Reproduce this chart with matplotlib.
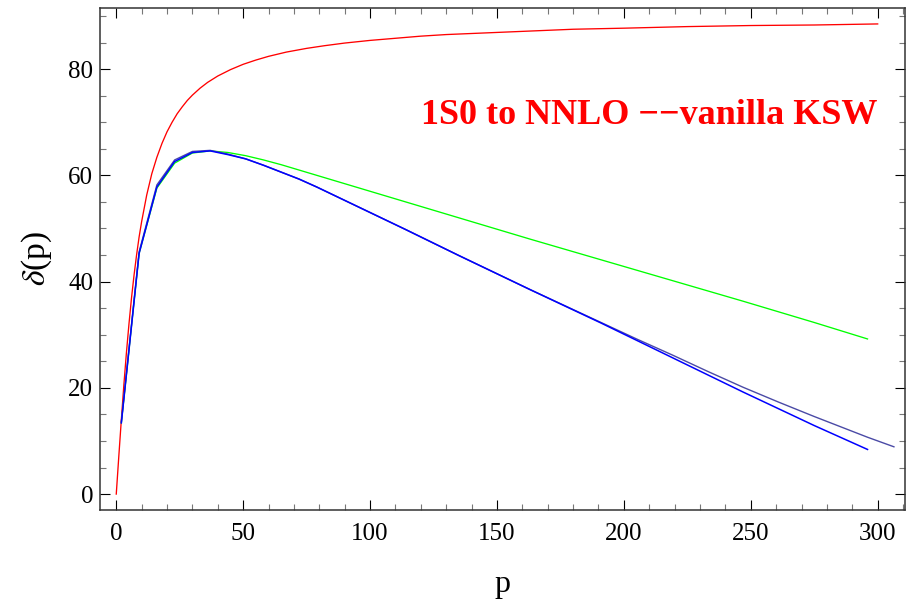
import matplotlib
matplotlib.use("Agg")
import matplotlib.pyplot as plt
from matplotlib.ticker import MultipleLocator

# red curve (LO, rises towards 90 deg)
p_red = [0, 1, 2, 3, 4, 5, 6, 7, 8, 9, 10, 12, 14, 16, 18, 20, 22, 24, 26, 28,
         30, 33, 36, 40, 45, 50, 55, 60, 67, 75, 82, 90, 100, 110, 120, 130,
         145, 160, 180, 200, 225, 250, 275, 300]
d_red = [0.0, 7.1, 14.0, 20.6, 26.6, 32.0, 36.9, 41.2, 45.0, 48.4, 51.3, 56.3,
         60.3, 63.4, 66.0, 68.2, 70.0, 71.6, 72.9, 74.1, 75.1, 76.4, 77.5,
         78.7, 79.9, 80.9, 81.7, 82.4, 83.2, 83.9, 84.4, 84.9, 85.4, 85.8,
         86.2, 86.5, 86.8, 87.1, 87.5, 87.7, 88.0, 88.2, 88.3, 88.5]

# green / blue share the same momentum grid
p_nnlo = [2, 9, 16, 23, 30, 37, 44, 51, 58, 65, 72, 79, 86, 93, 100, 114, 135,
          163, 191, 219, 247, 275, 296]
d_green = [13.4, 45.3, 57.6, 62.3, 64.2, 64.6, 64.3, 63.7, 62.9, 62.0, 61.0,
           60.0, 59.0, 58.0, 57.0, 55.0, 52.0, 48.0, 44.1, 40.2, 36.3, 32.3,
           29.2]
d_blue = [13.4, 45.3, 57.8, 62.6, 64.3, 64.6, 63.9, 63.1, 61.9, 60.6, 59.3,
          57.8, 56.2, 54.6, 53.0, 49.8, 44.9, 38.5, 32.2, 25.7, 19.2, 12.9,
          8.4]

# slate curve runs a bit further
p_slate = [2, 9, 16, 23, 30, 37, 44, 51, 58, 65, 72, 79, 86, 93, 100, 114, 135,
           163, 191, 205, 219, 233, 247, 261, 275, 289, 296, 306.4]
d_slate = [13.6, 45.6, 58.2, 62.9, 64.5, 64.7, 64.0, 63.1, 61.9, 60.6, 59.3,
           57.8, 56.2, 54.6, 53.0, 49.8, 44.9, 38.5, 32.3, 29.2, 26.2, 23.1,
           20.1, 17.3, 14.6, 12.0, 10.7, 8.9]

plt.rcParams["font.family"] = ["Liberation Serif", "DejaVu Serif"]
plt.rcParams["mathtext.fontset"] = "stix"

fig = plt.figure(figsize=(9.06, 6.06), dpi=100)
ax = fig.add_axes([0.1104, 0.1584, 0.8886, 0.8284])

ax.plot(p_red, d_red, color="#ff0000", lw=0.95)
ax.plot(p_nnlo, d_green, color="#00ff00", lw=0.95)
ax.plot(p_slate, d_slate, color="#4a4aa6", lw=1.0)
ax.plot(p_nnlo, d_blue, color="#0000ff", lw=1.1)

ax.set_xlim(-6.4, 310.8)
ax.set_ylim(-3.0, 91.5)

ax.xaxis.set_major_locator(MultipleLocator(50))
ax.xaxis.set_minor_locator(MultipleLocator(10))
ax.yaxis.set_major_locator(MultipleLocator(20))
ax.yaxis.set_minor_locator(MultipleLocator(5))
ax.tick_params(which="both", direction="in", top=True, right=True,
               labelsize=18)
ax.tick_params(axis="x", pad=9)
ax.tick_params(axis="y", pad=5)
ax.tick_params(which="major", length=7.5, width=0.8, color="black")
ax.tick_params(which="minor", length=4, width=0.8, color="#777777")
for s in ax.spines.values():
    s.set_linewidth(1.1)
    s.set_color("#333333")

ax.set_xlabel("p", fontsize=23, labelpad=18)
ax.set_ylabel(r"$\delta$(p)", fontsize=24, labelpad=10)

ax.text(210, 71.3, "1S0 to NNLO \u2212\u2212vanilla KSW", color="#ff0000",
        fontsize=26, fontweight="bold", ha="center", va="center")

fig.savefig("out.png", dpi=100)
